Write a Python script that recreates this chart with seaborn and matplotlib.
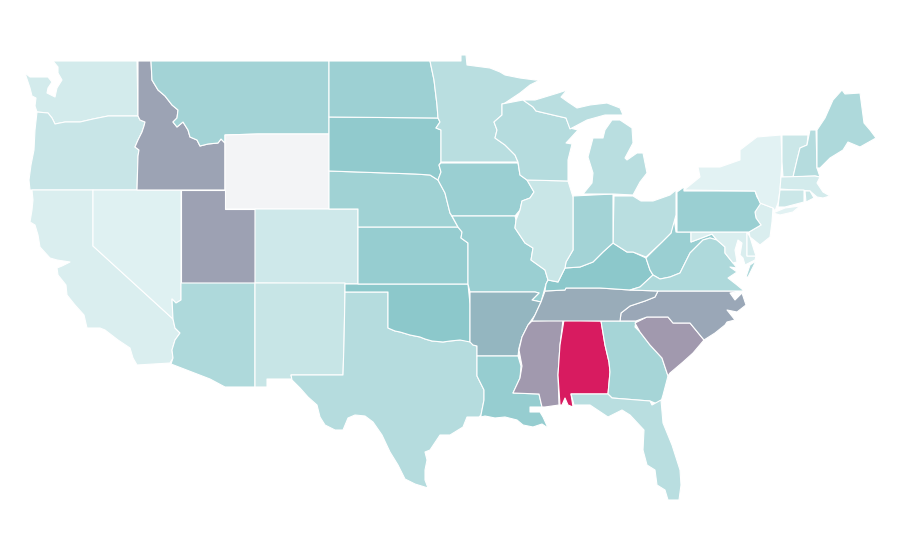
import matplotlib
matplotlib.use("Agg")
import matplotlib.pyplot as plt
import seaborn as sns

# state outlines, in map units (y grows downward)
WA = [(53,61),(137,61),(138,116),(108,116),(93,119),(80,122),(65,122),(55,124),(52,118),(48,113),(37,112),(35,106),(36,98),(32,96),(30,88),(25,73),(30,77),(48,77),(52,82),(48,88),(47,93),(55,97),(57,88),(62,80),(58,73),(58,67)]
OR = [(37,112),(48,113),(52,118),(55,124),(65,122),(80,122),(93,119),(108,116),(138,116),(140,120),(145,122),(144,126),(142,132),(138,140),(135,147),(139,150),(138,156),(137,190),(30,190),(29,180),(31,165),(34,150),(35,130)]
CA = [(32,190),(93,190),(93,246),(173,319),(175,328),(180,333),(175,340),(172,350),(173,358),(170,363),(137,365),(133,358),(130,348),(118,340),(105,330),(100,328),(87,328),(84,315),(75,305),(67,295),(66,285),(58,275),(57,268),(62,266),(70,262),(57,260),(50,258),(40,247),(38,235),(35,225),(30,222),(32,210),(33,200)]
NV = [(93,190),(181,190),(181,300),(176,303),(172,299),(173,319),(93,246)]
ID = [(138,61),(151,61),(152,80),(158,90),(165,96),(172,105),(178,110),(177,118),(173,122),(177,127),(183,122),(188,130),(190,137),(197,140),(200,146),(208,144),(218,143),(221,139),(225,143),(225,190),(137,190),(138,156),(139,150),(135,147),(138,140),(142,132),(144,126),(145,122),(140,120),(138,116)]
MT = [(151,61),(329,61),(329,134),(258,134),(225,135),(225,143),(221,139),(218,143),(208,144),(200,146),(197,140),(190,137),(188,130),(183,122),(177,127),(173,122),(177,118),(178,110),(172,105),(165,96),(158,90),(152,80)]
WY = [(225,135),(258,134),(329,134),(329,209),(225,209)]
UT = [(181,190),(225,190),(225,209),(255,209),(255,283),(181,283)]
CO = [(255,209),(358,209),(358,284),(255,283)]
AZ = [(181,283),(255,283),(255,387),(225,387),(210,379),(171,364),(173,358),(172,350),(175,340),(180,333),(175,328),(173,319),(172,299),(176,303),(181,300)]
NM = [(255,283),(345,283),(345,292),(344,343),(343,375),(291,375),(292,379),(267,379),(267,387),(255,387)]
TX = [(345,292),(388,292),(388,328),(395,331),(400,332),(410,335),(420,337),(425,339),(432,341),(443,342),(450,341),(460,340),(470,341),(473,345),(477,346),(477,376),(484,390),(484,400),(481,415),(479,417),(467,417),(463,427),(450,435),(440,435),(430,450),(425,452),(427,460),(425,470),(425,480),(428,488),(415,484),(405,479),(398,465),(390,452),(382,435),(373,422),(365,416),(355,415),(348,418),(343,430),(335,430),(325,425),(320,417),(317,405),(308,397),(300,388),(292,380),(291,375),(343,375),(344,343)]
OK = [(345,284),(468,284),(470,304),(470,342),(460,340),(450,341),(443,342),(432,341),(425,339),(420,337),(410,335),(400,332),(395,331),(388,328),(388,292),(345,292)]
KS = [(358,227),(458,227),(462,232),(461,238),(468,243),(468,284),(358,284)]
NE = [(329,171),(415,174),(430,175),(438,180),(445,193),(450,213),(458,227),(358,227),(358,209),(329,209)]
SD = [(329,117),(438,118),(440,122),(436,128),(441,130),(441,162),(439,165),(441,172),(438,180),(430,175),(415,174),(329,171)]
ND = [(329,61),(430,61),(434,80),(437,105),(438,118),(329,117)]
MN = [(430,61),(461,61),(461,55),(466,55),(467,65),(490,68),(500,72),(505,75),(520,78),(535,80),(540,80),(530,85),(520,93),(505,103),(502,104),(502,115),(494,122),(497,130),(495,138),(505,145),(515,155),(518,162),(441,162),(441,130),(436,128),(440,122),(438,118),(437,105),(434,80)]
IA = [(441,163),(518,163),(520,175),(527,180),(534,192),(530,198),(522,201),(520,210),(515,216),(452,216),(450,213),(445,193),(438,180),(441,172),(439,165)]
MO = [(452,216),(515,216),(516,220),(515,228),(525,243),(533,248),(531,260),(545,270),(548,280),(546,284),(541,302),(532,300),(539,293),(535,292),(470,292),(468,284),(468,243),(461,238),(462,232),(458,227)]
AR = [(470,292),(535,292),(539,293),(532,300),(541,302),(535,315),(528,325),(522,337),(519,348),(518,356),(477,356),(477,346),(473,345),(470,342),(470,304)]
LA = [(477,356),(518,356),(521,366),(520,378),(513,393),(539,394),(542,407),(530,407),(530,412),(540,412),(543,417),(548,428),(542,424),(533,427),(523,425),(517,420),(505,417),(495,418),(485,416),(481,417),(481,415),(484,400),(484,390),(477,376)]
MS = [(532,321),(563,320),(560,345),(558,375),(559,405),(545,407),(542,407),(539,394),(513,393),(520,378),(522,366),(519,350),(522,337),(528,325)]
AL = [(564,320),(601,321),(605,345),(609,362),(610,372),(608,394),(571,394),(573,407),(568,405),(565,398),(562,405),(560,405),(558,375),(560,345)]
GA = [(601,321),(636,321),(635,327),(640,332),(650,345),(662,358),(668,376),(663,395),(660,405),(650,401),(612,398),(608,394),(610,372),(609,362),(605,345)]
FL = [(571,394),(608,394),(612,398),(650,401),(652,405),(661,400),(663,423),(672,445),(680,470),(681,485),(679,500),(668,500),(665,490),(657,485),(655,470),(647,465),(643,450),(644,430),(630,415),(622,410),(608,417),(590,405),(574,405)]
SC = [(635,323),(647,317),(668,317),(673,323),(690,323),(704,340),(693,353),(683,362),(670,373),(668,376),(662,358),(650,345),(640,332)]
NC = [(620,321),(621,313),(630,306),(645,301),(655,297),(658,291),(742,291),(730,293),(735,300),(742,293),(746,305),(737,312),(727,310),(735,320),(727,322),(725,325),(715,333),(704,340),(690,323),(673,323),(668,317),(647,317),(636,321)]
TN = [(545,291),(565,290),(566,288),(600,288),(630,290),(658,291),(655,297),(645,301),(630,306),(621,313),(620,321),(532,321),(535,315),(541,302)]
KY = [(548,280),(558,282),(565,268),(580,267),(593,262),(603,252),(613,243),(627,252),(633,252),(646,258),(650,270),(653,275),(640,287),(630,290),(600,288),(566,288),(565,290),(545,291),(546,284)]
WV = [(676,232),(691,232),(691,242),(712,234),(717,240),(710,238),(703,240),(690,253),(680,273),(670,277),(660,279),(653,275),(650,270),(646,258),(662,242),(671,233),(674,217)]
VA = [(630,290),(640,287),(653,275),(660,279),(670,277),(680,273),(690,253),(703,240),(710,238),(717,240),(725,247),(725,253),(733,263),(737,268),(730,267),(737,272),(728,278),(737,285),(743,290),(745,291),(658,291)]
VA_SHORE = [(756,261),(748,277),(746,277),(750,265)]
MD = [(691,232),(747,232),(747,256),(756,256),(755,260),(745,265),(743,258),(740,255),(742,243),(738,240),(735,250),(737,262),(733,263),(725,253),(725,247),(717,240),(712,234),(691,242)]
DE = [(747,232),(750,237),(754,250),(756,256),(747,256)]
NJ = [(760,203),(773,208),(772,222),(770,237),(760,245),(750,237),(749,232),(761,225),(756,218),(755,212)]
PA = [(677,192),(684,187),(684,191),(755,191),(757,197),(761,203),(755,212),(756,218),(761,225),(749,232),(677,232)]
OH = [(614,196),(633,196),(641,201),(653,201),(670,195),(676,190),(676,215),(671,233),(662,242),(646,257),(633,252),(627,252),(613,243)]
IN = [(573,196),(613,194),(613,243),(603,252),(593,262),(580,267),(565,268),(566,262),(573,250)]
IL = [(527,180),(568,181),(573,197),(573,250),(566,262),(565,268),(558,282),(548,280),(545,270),(531,260),(533,248),(525,243),(515,228),(516,220),(520,210),(522,201),(530,198),(534,192)]
WI = [(502,104),(523,100),(533,107),(536,111),(553,115),(566,118),(570,128),(578,130),(566,143),(572,144),(568,160),(568,181),(527,180),(520,175),(518,162),(515,155),(505,145),(495,138),(497,130),(494,122),(502,115)]
MI_LOWER = [(583,194),(613,194),(633,195),(640,182),(647,173),(643,153),(637,153),(627,160),(625,158),(633,143),(632,128),(620,120),(612,120),(605,130),(603,138),(593,138),(588,157),(593,173),(592,183)]
MI_UPPER = [(523,100),(535,100),(558,93),(567,90),(561,97),(568,102),(577,108),(590,105),(607,103),(620,108),(623,115),(605,115),(587,120),(570,129),(566,118),(553,115),(536,111),(533,107)]
NY = [(684,190),(700,177),(698,167),(720,167),(740,160),(740,150),(757,137),(781,135),(782,162),(780,190),(778,203),(775,211),(773,208),(760,203),(755,191)]
NY_ISLAND = [(773,213),(785,208),(800,206),(793,212),(780,215)]
VT = [(782,135),(808,135),(807,145),(800,148),(797,160),(793,177),(783,177),(782,162)]
NH = [(810,130),(816,130),(817,168),(820,177),(815,176),(793,177),(797,160),(800,148),(807,145)]
ME = [(817,130),(825,118),(833,100),(842,90),(845,94),(860,93),(864,123),(870,130),(876,138),(860,147),(848,142),(843,150),(830,158),(820,168),(817,168)]
MA = [(781,177),(815,176),(820,177),(817,183),(823,192),(830,196),(823,198),(817,197),(810,191),(780,189)]
CT = [(780,190),(804,190),(804,202),(785,207),(778,207)]
RI = [(805,191),(810,191),(814,198),(806,202)]

# value read from each state's shade
state_shapes = [[WA],[OR],[CA],[NV],[ID],[MT],[WY],[UT],[CO],[AZ],[NM],[TX],[OK],[KS],[NE],[SD],[ND],[MN],[IA],[MO],[AR],[LA],[MS],[AL],[GA],[FL],[SC],[NC],[TN],[KY],[WV],[VA,VA_SHORE],[MD],[DE],[NJ],[PA],[OH],[IN],[IL],[WI],[MI_LOWER,MI_UPPER],[NY,NY_ISLAND],[VT],[NH],[ME],[MA],[CT],[RI]]
state_values = [39.1,43.4,36.4,34.5,73.8,57.7,0,74.2,41.4,53.4,44.1,50.7,66.7,62.8,58.9,64.7,60.0,49.6,61.2,61.2,70.2,62.8,75.6,100,56.5,49.6,75.5,72.7,72.1,66.7,61.2,53.4,36.4,38,36.4,61.2,49.6,57.7,43,50.7,49.6,33.3,42.2,50.7,53.4,39.1,42.2,43]
shade_stops = ["#f3f4f6", "#e2f2f3", "#8cc8cb", "#d81b60"]

sns.set_theme(style="white")
cmap = sns.blend_palette(shade_stops, as_cmap=True)

fig = plt.figure(figsize=(9, 5.6), dpi=100)
ax = fig.add_axes([0, 0, 1, 1])
for parts, value in zip(state_shapes, state_values):
    for part in parts:
        xs, ys = zip(*part)
        ax.fill(xs, ys, facecolor=cmap(value / 100), edgecolor="white", linewidth=0.8, joinstyle="round")
ax.set_xlim(0, 900)
ax.set_ylim(560, 0)
ax.axis("off")
fig.savefig("out.png", dpi=100)
plt.close(fig)
